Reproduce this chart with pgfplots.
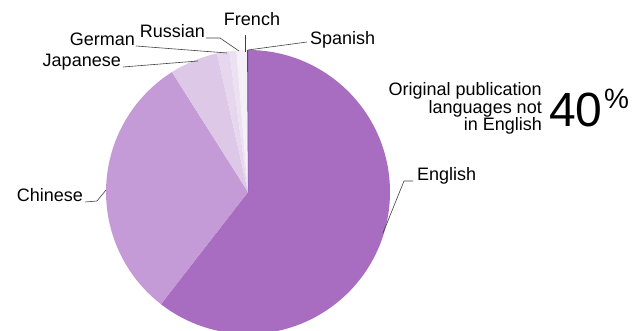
\documentclass[border=0pt]{standalone}
\usepackage{fontspec}
\setmainfont{Liberation Sans}
\usepackage{pgfplots}
\usepackage{pgfplotstable}
\pgfplotsset{compat=1.18}
\definecolor{slc0}{HTML}{A86CC1}
\definecolor{slc1}{HTML}{C49BD6}
\definecolor{slc2}{HTML}{DDC8E7}
\definecolor{slc3}{HTML}{E6D6EE}
\definecolor{slc4}{HTML}{ECE1F2}
\definecolor{slc5}{HTML}{F5F0F8}
\definecolor{slc6}{HTML}{2F4F9A}
\definecolor{leader}{HTML}{404040}
\pgfplotstableread{
lang value
English 60.5
Chinese 30.5
Japanese 5.5
German 1.4
Russian 0.8
French 1.2
Spanish 0.1
}\pietable
\begin{document}
\begin{tikzpicture}
\begin{axis}[scale only axis, width=637bp, height=331bp,
  xmin=0, xmax=637, ymin=0, ymax=331, hide axis, clip=true]
\pgfplotsextra{%
  \gdef\cum{0}%
  \pgfplotstableforeachcolumnelement{value}\of\pietable\as\v{%
    \pgfmathsetmacro\aS{90-3.6*\cum}%
    \pgfmathsetmacro\aE{90-3.6*(\cum+\v)}%
    \fill[color=slc\pgfplotstablerow] (axis cs:248,139) -- ++(\aS:142bp)
      arc[start angle=\aS, end angle=\aE, radius=142bp] -- cycle;
    \pgfmathsetmacro\tmpcum{\cum+\v}%
    \xdef\cum{\tmpcum}%
  }%
}
% leader lines
\draw[leader, line width=0.6bp] (axis cs:245,296) -- (axis cs:245,279);
\draw[leader, line width=0.6bp] (axis cs:248,281) -- (axis cs:307,289);
\draw[leader, line width=0.6bp] (axis cs:206,293) -- (axis cs:220,293) -- (axis cs:239,280);
\draw[leader, line width=0.6bp] (axis cs:136,285) -- (axis cs:227,278);
\draw[leader, line width=0.6bp] (axis cs:123,264) -- (axis cs:198,270);
\draw[leader, line width=0.6bp] (axis cs:85,129) -- (axis cs:97,130) -- (axis cs:106,141);
\draw[leader, line width=0.6bp] (axis cs:413,150) -- (axis cs:404,150) -- (axis cs:383,98);
% labels
\begin{scope}[every node/.style={inner sep=0pt, font=\fontsize{18bp}{18bp}\selectfont}]
\node[anchor=base] at (axis cs:252,305) {French};
\node[anchor=base west] at (axis cs:310,286) {Spanish};
\node[anchor=base east] at (axis cs:205,293) {Russian};
\node[anchor=base east] at (axis cs:135,285) {German};
\node[anchor=base east] at (axis cs:121,264) {Japanese};
\node[anchor=base east] at (axis cs:83,129) {Chinese};
\node[anchor=base west] at (axis cs:417,150) {English};
\node[anchor=base east] at (axis cs:542,235) {Original publication};
\node[anchor=base east] at (axis cs:542,217) {languages not};
\node[anchor=base east] at (axis cs:542,200) {in English};
\end{scope}
\node[inner sep=0pt, anchor=base west, font=\fontsize{48bp}{48bp}\selectfont] at (axis cs:549,204) {40};
\node[inner sep=0pt, anchor=base west, font=\fontsize{28bp}{28bp}\selectfont] at (axis cs:604,222) {\%};
\end{axis}
\pgfresetboundingbox
\path (current axis.south west) rectangle (current axis.north east);
\end{tikzpicture}
\end{document}
